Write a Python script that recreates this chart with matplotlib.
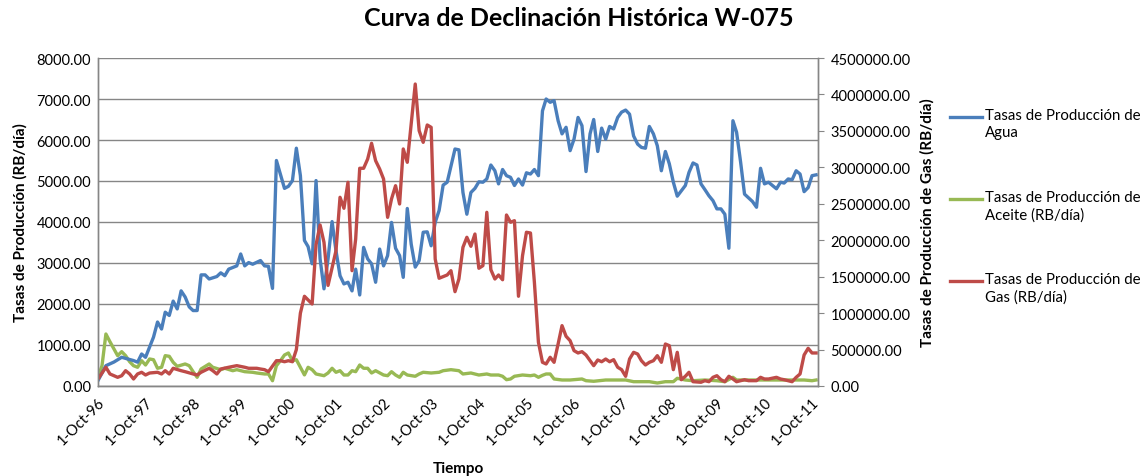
import matplotlib
matplotlib.use("Agg")
import matplotlib.pyplot as plt
import matplotlib.dates as mdates
from matplotlib.lines import Line2D
from matplotlib.ticker import FuncFormatter, MultipleLocator
import pandas as pd

plt.rcParams['font.family'] = ['Lato', 'DejaVu Sans']

# meses desde 1-Oct-96 y tasas
mes_agua = [0, 2, 4, 6, 9, 10, 11, 12, 14, 15, 16, 17, 18, 19, 20, 21, 22, 23, 24, 25,
            26, 27, 28, 30, 31, 32, 33, 35, 36, 37, 38, 39, 41, 42, 43, 44, 45, 47, 48, 49,
            50, 51, 52, 53, 54, 55, 56, 57, 58, 59, 60, 61, 62, 63, 64, 65, 66, 67, 68, 69,
            70, 71, 72, 73, 74, 75, 76, 77, 78, 79, 80, 81, 82, 83, 84, 85, 86, 87, 88, 90,
            91, 92, 93, 94, 95, 96, 97, 98, 99, 100, 101, 102, 103, 104, 105, 106, 107, 108, 109, 110,
            111, 112, 113, 114, 115, 116, 117, 118, 119, 120, 121, 122, 123, 124, 125, 126, 127, 128, 129, 130,
            131, 132, 133, 134, 135, 136, 137, 138, 139, 140, 141, 142, 143, 144, 145, 146, 147, 148, 149, 150,
            151, 152, 153, 154, 155, 156, 157, 158, 159, 160, 161, 162, 163, 164, 165, 166, 167, 168, 169, 170,
            171, 172, 173, 174, 175, 176, 177, 178, 179, 180, 181]
agua = [130, 495, 585, 700, 620, 580, 780, 700, 1190, 1560, 1390, 1800, 1720, 2070, 1880, 2320, 2170, 1930, 1840, 1840,
        2710, 2710, 2610, 2670, 2760, 2690, 2850, 2930, 3220, 2930, 3010, 2970, 3060, 2930, 2920, 2380, 5500, 4820, 4870, 5010,
        5800, 5130, 3550, 3400, 2980, 5010, 3100, 2370, 3100, 4010, 3300, 2690, 2490, 2530, 2320, 2850, 2220, 3380, 3100, 2980,
        2530, 3340, 2930, 3180, 3990, 3360, 3180, 2650, 4330, 3460, 2900, 3060, 3750, 3760, 3420, 3990, 4280, 4900, 4970, 5780,
        5760, 4720, 4190, 4720, 4820, 4980, 4970, 5050, 5390, 5250, 4930, 5280, 5130, 5090, 4890, 5050, 4900, 5200, 5170, 5280,
        5130, 6710, 7000, 6920, 6960, 6470, 6150, 6310, 5740, 6020, 6550, 6350, 5230, 6150, 6500, 5720, 6290, 6020, 6330, 6270,
        6550, 6680, 6730, 6630, 6100, 5900, 5820, 5800, 6330, 6150, 5860, 5250, 5720, 5420, 4970, 4630, 4760, 4890, 5210, 5440,
        5390, 4930, 4790, 4640, 4520, 4320, 4320, 4190, 3360, 6470, 6190, 5460, 4680, 4590, 4500, 4360, 5310, 4930, 4970, 4890,
        4810, 4970, 4950, 5050, 5030, 5250, 5170, 4740, 4840, 5130, 5150]

mes_aceite = [0, 1, 2, 3, 5, 6, 7, 8, 9, 10, 11, 12, 13, 14, 15, 16, 17, 18, 19, 20,
              22, 23, 24, 25, 26, 28, 29, 31, 32, 34, 35, 37, 39, 40, 42, 43, 44, 45, 46, 47,
              48, 49, 50, 52, 53, 54, 55, 57, 58, 59, 60, 61, 62, 63, 64, 65, 66, 67, 68, 69,
              70, 72, 73, 74, 75, 76, 77, 78, 80, 81, 82, 84, 86, 87, 89, 91, 92, 94, 96, 98,
              99, 101, 102, 103, 104, 105, 107, 109, 110, 111, 112, 113, 114, 115, 117, 119, 122, 123, 125, 128,
              130, 133, 135, 139, 141, 143, 145, 146, 148, 150, 153, 156, 158, 160, 161, 165, 170, 175, 178, 180,
              181]
aceite = [212, 495, 1268, 1080, 740, 837, 740, 593, 495, 456, 617, 512, 659, 641, 432, 456, 740, 724, 578, 480,
          537, 495, 349, 212, 415, 537, 456, 398, 432, 373, 398, 349, 334, 317, 293, 293, 129, 495, 617, 756,
          805, 617, 641, 270, 456, 398, 293, 251, 317, 432, 334, 373, 268, 268, 373, 349, 512, 432, 432, 317,
          373, 268, 251, 349, 268, 212, 334, 268, 237, 293, 334, 317, 334, 373, 398, 373, 293, 317, 268, 293,
          268, 268, 237, 154, 171, 237, 268, 251, 268, 212, 260, 293, 293, 171, 146, 146, 171, 129, 115, 146,
          146, 146, 105, 105, 73, 105, 105, 188, 146, 129, 146, 129, 105, 212, 146, 146, 146, 146, 146, 129,
          146]

mes_gas = [0, 2, 3, 5, 6, 7, 8, 9, 10, 11, 12, 13, 15, 16, 17, 18, 19, 21, 22, 24,
           25, 26, 28, 29, 30, 31, 33, 35, 37, 38, 40, 41, 42, 43, 45, 46, 47, 48, 49, 50,
           51, 52, 54, 55, 56, 57, 58, 59, 60, 61, 62, 63, 64, 65, 66, 67, 68, 69, 70, 71,
           72, 73, 74, 75, 76, 77, 78, 79, 80, 81, 82, 83, 84, 85, 86, 88, 89, 90, 91, 92,
           93, 94, 95, 96, 97, 98, 99, 100, 101, 102, 103, 104, 105, 106, 107, 108, 109, 110, 111, 112,
           113, 114, 115, 116, 117, 118, 119, 120, 121, 122, 123, 124, 125, 126, 127, 128, 129, 130, 131, 132,
           133, 134, 135, 136, 137, 138, 139, 140, 141, 142, 143, 144, 145, 146, 147, 148, 149, 150, 152, 153,
           154, 155, 156, 157, 158, 159, 160, 161, 163, 164, 166, 167, 168, 169, 171, 172, 173, 175, 176, 177,
           178, 179, 180, 181]
gas = [96000, 257000, 165000, 119000, 141000, 210000, 165000, 96000, 165000, 188000, 151000, 178000, 188000, 165000, 210000, 165000, 243000, 210000, 196000, 165000,
       151000, 188000, 243000, 210000, 165000, 233000, 257000, 279000, 257000, 243000, 243000, 233000, 224000, 196000, 347000, 347000, 333000, 347000, 333000, 500000,
       1000000, 1231000, 1125000, 1940000, 2209000, 1971000, 1380000, 1620000, 1856000, 2589000, 2438000, 2795000, 1582000, 2017000, 2987000, 2987000, 3114000, 3330000, 3091000, 2977000,
       2840000, 2314000, 2566000, 2748000, 2497000, 3252000, 3069000, 3595000, 4143000, 3503000, 3343000, 3581000, 3549000, 1742000, 1478000, 1523000, 1582000, 1294000, 1468000, 1903000,
       2040000, 1917000, 2085000, 1615000, 1651000, 2383000, 1596000, 1468000, 1523000, 1458000, 2346000, 2246000, 2268000, 1231000, 1788000, 2109000, 2099000, 1423000, 600000, 325000,
       302000, 394000, 325000, 576000, 828000, 682000, 622000, 485000, 453000, 471000, 425000, 347000, 279000, 357000, 333000, 370000, 333000, 361000, 257000, 224000,
       133000, 370000, 462000, 439000, 347000, 288000, 325000, 347000, 416000, 325000, 576000, 553000, 224000, 462000, 86000, 133000, 188000, 59000, 51000, 73000,
       59000, 119000, 141000, 86000, 59000, 133000, 96000, 59000, 86000, 73000, 73000, 119000, 96000, 96000, 119000, 96000, 86000, 59000, 119000, 165000,
       425000, 517000, 453000, 453000]

etiquetas = ['Tasas de Producción de\nAgua',
             'Tasas de Producción de\nAceite (RB/día)',
             'Tasas de Producción de\nGas (RB/día)']
colores = ['#4A7EBB', '#98B954', '#BE4B48']

inicio = pd.Timestamp('1996-10-01')


def fechas(meses):
    return [inicio + pd.DateOffset(months=m) for m in meses]


fig = plt.figure(figsize=(11.43, 4.77), dpi=100)
ax = fig.add_axes([0.0857, 0.1887, 0.63, 0.6876])
ax2 = ax.twinx()

ax.plot(fechas(mes_agua), agua, color=colores[0], lw=2.4, solid_joinstyle='round', zorder=3)
ax.plot(fechas(mes_aceite), aceite, color=colores[1], lw=2.4, solid_joinstyle='round', zorder=2)
ax2.plot(fechas(mes_gas), gas, color=colores[2], lw=2.4, solid_joinstyle='round')

ax.set_xlim(pd.Timestamp('1996-10-01'), pd.Timestamp('2011-11-16'))
ax.set_ylim(0, 8000)
ax2.set_ylim(0, 4500000)
ax.yaxis.set_major_locator(MultipleLocator(1000))
ax2.yaxis.set_major_locator(MultipleLocator(500000))
ax.yaxis.set_major_formatter(FuncFormatter(lambda v, p: '%.2f' % v))
ax2.yaxis.set_major_formatter(FuncFormatter(lambda v, p: '%.2f' % v))

ax.xaxis.set_major_locator(mdates.MonthLocator(bymonth=10))
ax.xaxis.set_major_formatter(FuncFormatter(
    lambda v, p: '%d-%s' % (mdates.num2date(v).day, mdates.num2date(v).strftime('%b-%y'))))
for lab in ax.get_xticklabels():
    lab.set_rotation(45)
    lab.set_ha('right')
    lab.set_rotation_mode('anchor')

ax.grid(axis='y', color='#868686', lw=1)
ax.set_axisbelow(True)
for a in (ax, ax2):
    for s in a.spines.values():
        s.set_color('#868686')
        s.set_linewidth(1)
    a.spines['top'].set_visible(False)
ax.tick_params(axis='both', length=0, labelsize=10.5, colors='black', pad=5)
ax.tick_params(axis='x', pad=6)
ax2.tick_params(axis='y', length=4, color='#868686', labelsize=10.5, pad=5)

ax.set_ylabel('Tasas de Producción (RB/día)', fontsize=11, fontweight='bold', labelpad=6)
ax2.set_ylabel('Tasas de Producción de Gas (RB/día)', fontsize=11, fontweight='bold', labelpad=7)
ax.set_xlabel('Tiempo', fontsize=11, fontweight='bold', labelpad=10)
fig.suptitle('Curva de Declinación Histórica W-075', x=0.506, y=0.985, fontsize=18, fontweight='bold')

# leyenda a la derecha
for i, (lab, col) in enumerate(zip(etiquetas, colores)):
    yl = 0.7526 - i * 0.1719
    fig.add_artist(Line2D([0.8311, 0.8591], [yl, yl], color=col, lw=2.4))
    fig.text(0.8618, yl + 0.0195, lab, fontsize=10.8, va='top', linespacing=1.3)

fig.savefig('out.png', dpi=100)
